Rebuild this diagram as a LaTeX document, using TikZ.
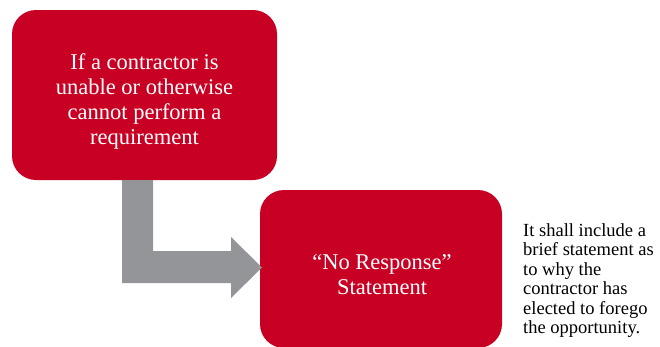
\documentclass[tikz,border=0pt]{standalone}
\usepackage{fontspec}
\setmainfont{Liberation Serif}
\definecolor{boxred}{RGB}{200,0,35}
\definecolor{arrowgray}{RGB}{147,149,152}
\begin{document}
\begin{tikzpicture}[x=1pt,y=-1pt,
  redbox/.style={fill=boxred,draw=none,rounded corners=24pt,inner sep=0pt},
  boxtext/.style={text=white,align=center,inner sep=0pt,font=\fontsize{22.5}{25}\selectfont},
  note/.style={align=left,anchor=north west,inner sep=0pt,font=\fontsize{18.5}{19.5}\selectfont}]
\useasboundingbox (0,0) rectangle (660,346);
\node[redbox,minimum width=265pt,minimum height=170pt] (b1) at (144.5,95) {};
\node[boxtext] (t1) at (144.5,101) {If a contractor is\\unable or otherwise\\cannot perform a\\requirement};
\node[redbox,minimum width=242pt,minimum height=158pt] (b2) at (381,269) {};
\node[boxtext] (t2) at (382,275) {“No Response”\\Statement};
\fill[arrowgray] (122,180) -- (153,180) -- (153,251) -- (231,251) -- (231,237) -- (262,267.5) -- (231,298) -- (231,283) -- (122,283) -- cycle;
\node[note] (n) at (523,223) {It shall include a\\brief statement as\\to why the\\contractor has\\elected to forego\\the opportunity.};
\end{tikzpicture}
\end{document}
